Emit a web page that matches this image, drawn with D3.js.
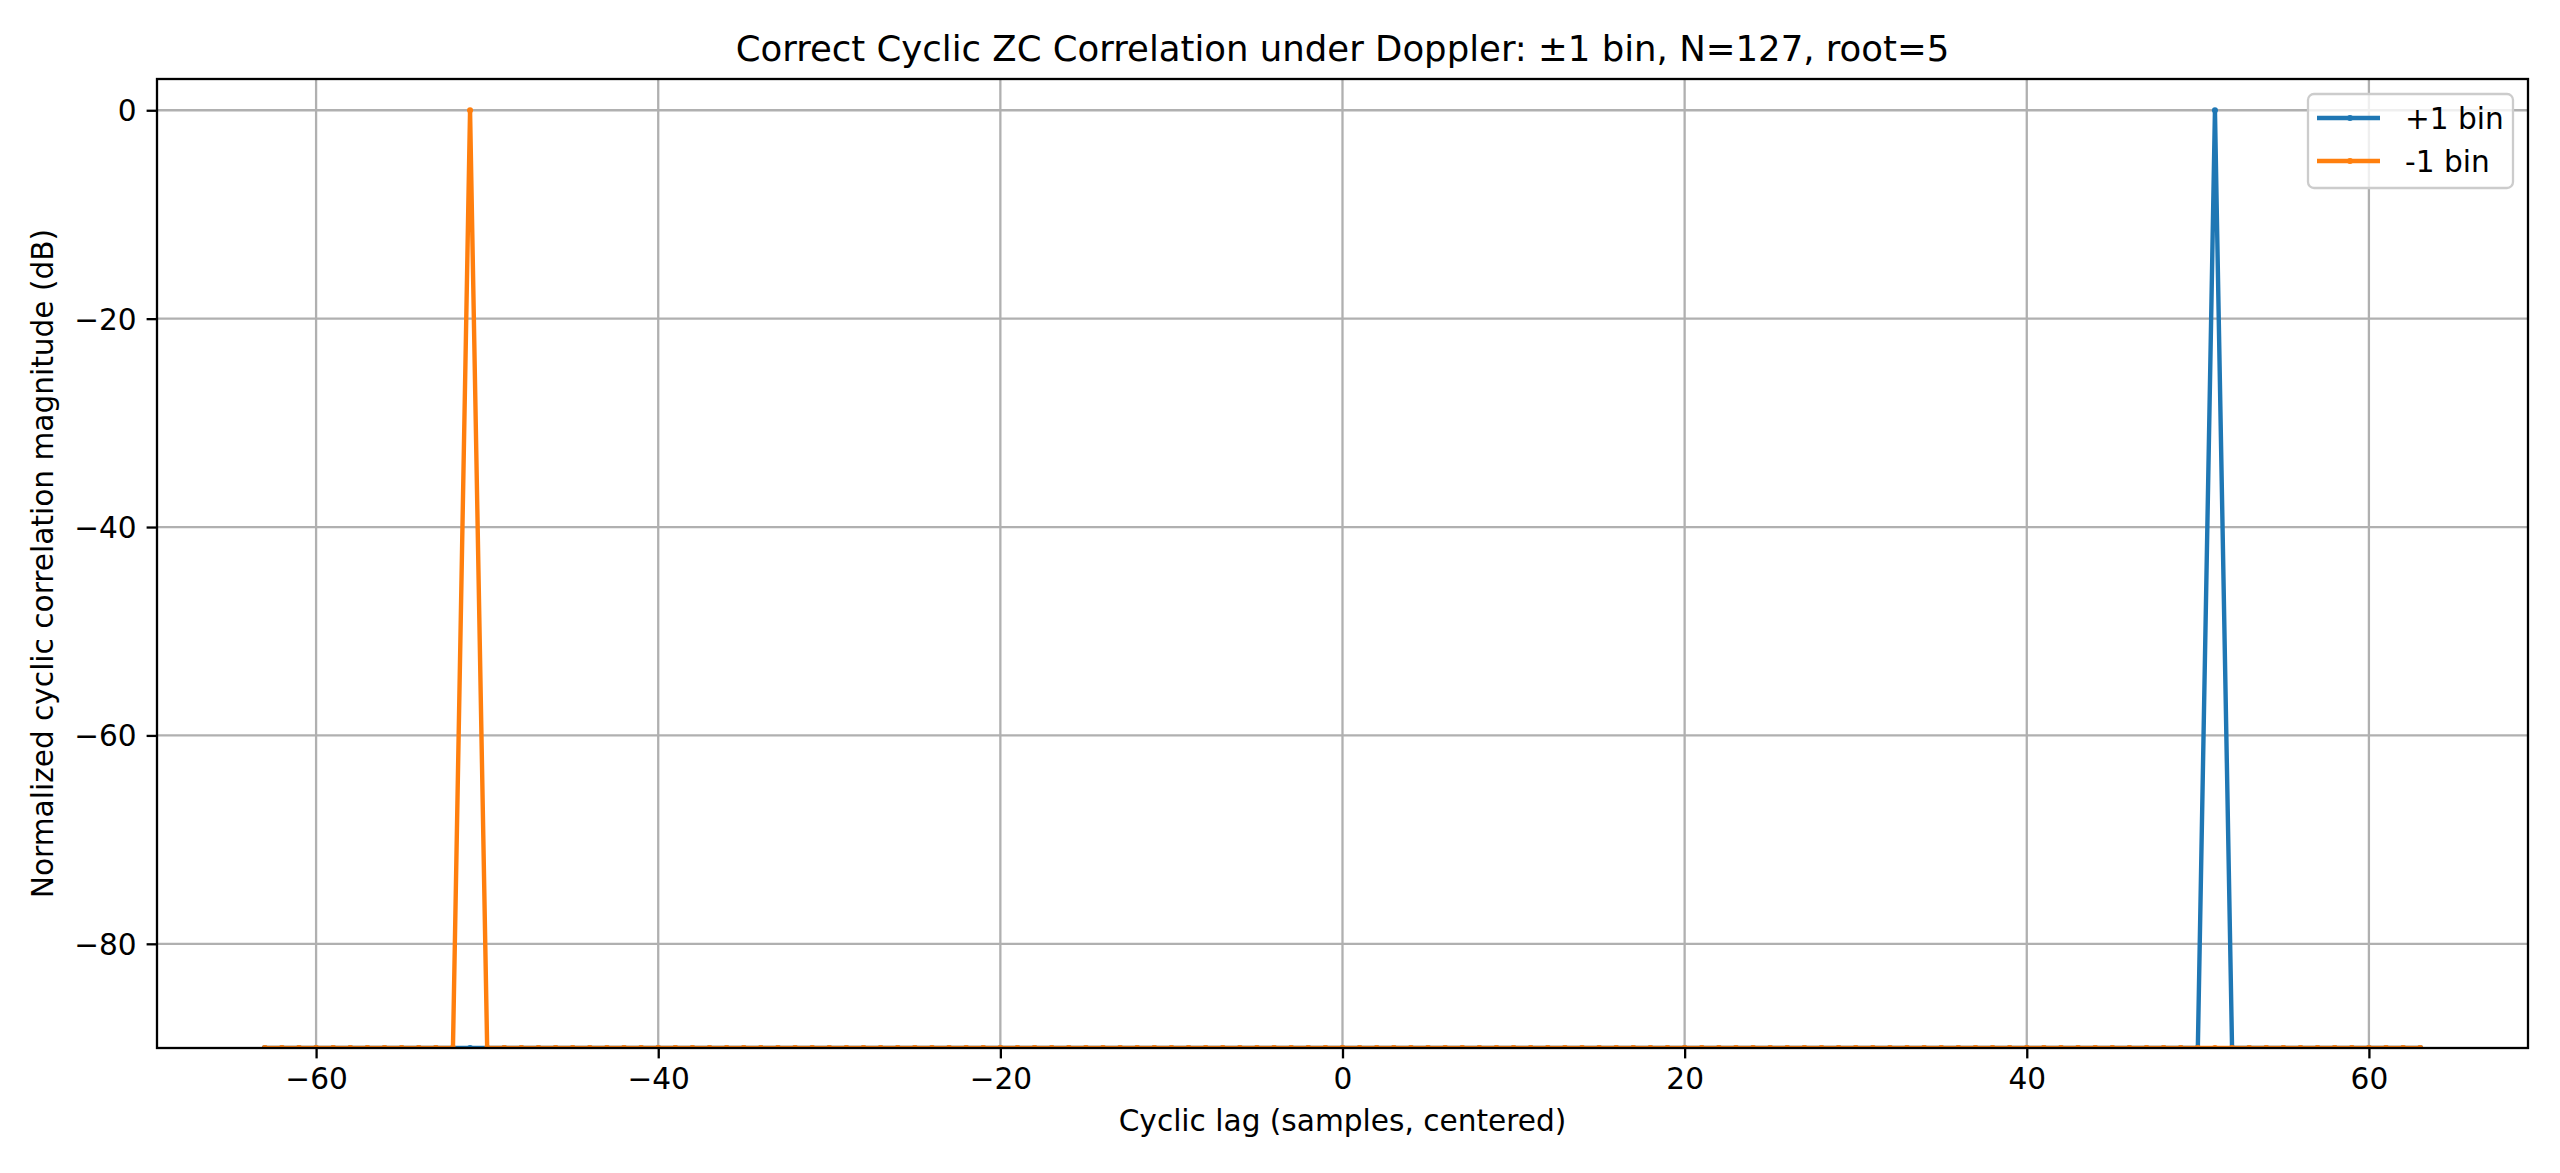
<!DOCTYPE html>
<html>
<head>
<meta charset="utf-8">
<script src="https://cdn.jsdelivr.net/npm/d3@7"></script>
<style>
  body { margin: 0; background: #fff; }
  svg { display: block; font-family: "DejaVu Sans", sans-serif; }
</style>
</head>
<body>
<svg id="chart" width="2560" height="1173"></svg>
<script>
// cyclic lag, samples centered on zero
var lags = [
  -63, -62, -61, -60, -59, -58, -57, -56, -55, -54,
  -53, -52, -51, -50, -49, -48, -47, -46, -45, -44,
  -43, -42, -41, -40, -39, -38, -37, -36, -35, -34,
  -33, -32, -31, -30, -29, -28, -27, -26, -25, -24,
  -23, -22, -21, -20, -19, -18, -17, -16, -15, -14,
  -13, -12, -11, -10, -9, -8, -7, -6, -5, -4,
  -3, -2, -1, 0, 1, 2, 3, 4, 5, 6,
  7, 8, 9, 10, 11, 12, 13, 14, 15, 16,
  17, 18, 19, 20, 21, 22, 23, 24, 25, 26,
  27, 28, 29, 30, 31, 32, 33, 34, 35, 36,
  37, 38, 39, 40, 41, 42, 43, 44, 45, 46,
  47, 48, 49, 50, 51, 52, 53, 54, 55, 56,
  57, 58, 59, 60, 61, 62, 63
];

// normalized correlation magnitude in dB (floored at -90)
var plusBin = [
  -90, -90, -90, -90, -90, -90, -90, -90, -90, -90,
  -90, -90, -90, -90, -90, -90, -90, -90, -90, -90,
  -90, -90, -90, -90, -90, -90, -90, -90, -90, -90,
  -90, -90, -90, -90, -90, -90, -90, -90, -90, -90,
  -90, -90, -90, -90, -90, -90, -90, -90, -90, -90,
  -90, -90, -90, -90, -90, -90, -90, -90, -90, -90,
  -90, -90, -90, -90, -90, -90, -90, -90, -90, -90,
  -90, -90, -90, -90, -90, -90, -90, -90, -90, -90,
  -90, -90, -90, -90, -90, -90, -90, -90, -90, -90,
  -90, -90, -90, -90, -90, -90, -90, -90, -90, -90,
  -90, -90, -90, -90, -90, -90, -90, -90, -90, -90,
  -90, -90, -90, -90, 0, -90, -90, -90, -90, -90,
  -90, -90, -90, -90, -90, -90, -90
];

var minusBin = [
  -90, -90, -90, -90, -90, -90, -90, -90, -90, -90,
  -90, -90, 0, -90, -90, -90, -90, -90, -90, -90,
  -90, -90, -90, -90, -90, -90, -90, -90, -90, -90,
  -90, -90, -90, -90, -90, -90, -90, -90, -90, -90,
  -90, -90, -90, -90, -90, -90, -90, -90, -90, -90,
  -90, -90, -90, -90, -90, -90, -90, -90, -90, -90,
  -90, -90, -90, -90, -90, -90, -90, -90, -90, -90,
  -90, -90, -90, -90, -90, -90, -90, -90, -90, -90,
  -90, -90, -90, -90, -90, -90, -90, -90, -90, -90,
  -90, -90, -90, -90, -90, -90, -90, -90, -90, -90,
  -90, -90, -90, -90, -90, -90, -90, -90, -90, -90,
  -90, -90, -90, -90, -90, -90, -90, -90, -90, -90,
  -90, -90, -90, -90, -90, -90, -90
];

var seriesNames = ['+1 bin', '-1 bin'];
var xTicks = [-60, -40, -20, 0, 20, 40, 60];
var yTicks = [-80, -60, -40, -20, 0];

var color = {
  plus: '#1f77b4',
  minus: '#ff7f0e',
  grid: '#b0b0b0',
  axis: '#000000'
};

var plot = { left: 157, right: 2528, top: 79, bottom: 1048 };
var fontSize = '29.6px';

var svg = d3.select('#chart');

var x = d3.scaleLinear().domain([-69.3, 69.3]).range([plot.left, plot.right]);
var y = d3.scaleLinear().domain([-90, 3]).range([plot.bottom, plot.top]);

var fmt = function (d) { return d < 0 ? '\u2212' + Math.abs(d) : String(d); };

svg.append('defs').append('clipPath').attr('id', 'clip')
  .append('rect')
  .attr('x', plot.left).attr('y', plot.top)
  .attr('width', plot.right - plot.left).attr('height', plot.bottom - plot.top);

// grid
var grid = svg.append('g');
grid.selectAll('.gx').data(xTicks).enter().append('line')
  .attr('x1', function (d) { return x(d); }).attr('x2', function (d) { return x(d); })
  .attr('y1', plot.top).attr('y2', plot.bottom)
  .attr('stroke', color.grid).attr('stroke-width', 2.3);
grid.selectAll('.gy').data(yTicks).enter().append('line')
  .attr('y1', function (d) { return y(d); }).attr('y2', function (d) { return y(d); })
  .attr('x1', plot.left).attr('x2', plot.right)
  .attr('stroke', color.grid).attr('stroke-width', 2.3);

// series
var series = [
  { name: seriesNames[0], values: plusBin, color: color.plus },
  { name: seriesNames[1], values: minusBin, color: color.minus }
];

var line = d3.line()
  .x(function (d, i) { return x(lags[i]); })
  .y(function (d) { return y(d); });

var marks = svg.append('g').attr('clip-path', 'url(#clip)');
series.forEach(function (s) {
  marks.append('path')
    .attr('d', line(s.values))
    .attr('fill', 'none')
    .attr('stroke', s.color)
    .attr('stroke-width', 4.4)
    .attr('stroke-linejoin', 'round');
  marks.append('g').selectAll('circle').data(s.values).enter().append('circle')
    .attr('cx', function (d, i) { return x(lags[i]); })
    .attr('cy', function (d) { return y(d); })
    .attr('r', 3)
    .attr('fill', s.color);
});

// axes
var xAxis = svg.append('g')
  .attr('transform', 'translate(0,' + plot.bottom + ')')
  .call(d3.axisBottom(x).tickValues(xTicks).tickFormat(fmt).tickSize(10.4).tickPadding(10));
var yAxis = svg.append('g')
  .attr('transform', 'translate(' + plot.left + ',0)')
  .call(d3.axisLeft(y).tickValues(yTicks).tickFormat(fmt).tickSize(10.4).tickPadding(10));

[xAxis, yAxis].forEach(function (a) {
  a.select('.domain').remove();
  a.selectAll('.tick line').attr('stroke', color.axis).attr('stroke-width', 2.3);
  a.selectAll('.tick text')
    .attr('fill', color.axis)
    .style('font-family', '"DejaVu Sans", sans-serif')
    .style('font-size', fontSize);
});
yAxis.selectAll('.tick text').attr('dy', '0.35em');

// spines
svg.append('rect')
  .attr('x', plot.left).attr('y', plot.top)
  .attr('width', plot.right - plot.left).attr('height', plot.bottom - plot.top)
  .attr('fill', 'none').attr('stroke', color.axis).attr('stroke-width', 2.3);

// title and labels
svg.append('text')
  .attr('x', (plot.left + plot.right) / 2).attr('y', 61)
  .attr('text-anchor', 'middle')
  .style('font-size', '35.5px')
  .text('Correct Cyclic ZC Correlation under Doppler: \u00b11 bin, N=127, root=5');

svg.append('text')
  .attr('x', (plot.left + plot.right) / 2).attr('y', 1131)
  .attr('text-anchor', 'middle')
  .style('font-size', fontSize)
  .text('Cyclic lag (samples, centered)');

svg.append('text')
  .attr('transform', 'translate(53,' + (plot.top + plot.bottom) / 2 + ') rotate(-90)')
  .attr('text-anchor', 'middle')
  .style('font-size', fontSize)
  .text('Normalized cyclic correlation magnitude (dB)');

// legend
var legend = svg.append('g');
legend.append('rect')
  .attr('x', 2308).attr('y', 94).attr('width', 205).attr('height', 94)
  .attr('rx', 6).attr('ry', 6)
  .attr('fill', '#ffffff').attr('fill-opacity', 0.8)
  .attr('stroke', '#cccccc').attr('stroke-width', 2.3);

var rows = legend.selectAll('.row').data(series).enter().append('g')
  .attr('transform', function (d, i) { return 'translate(0,' + (118 + i * 43) + ')'; });
rows.append('line')
  .attr('x1', 2317).attr('x2', 2380).attr('y1', 0).attr('y2', 0)
  .attr('stroke', function (d) { return d.color; }).attr('stroke-width', 4.4);
rows.append('circle')
  .attr('cx', 2350).attr('cy', 0).attr('r', 3)
  .attr('fill', function (d) { return d.color; });
rows.append('text')
  .attr('x', 2405).attr('y', 10.5)
  .style('font-size', fontSize)
  .text(function (d) { return d.name; });
</script>
</body>
</html>
